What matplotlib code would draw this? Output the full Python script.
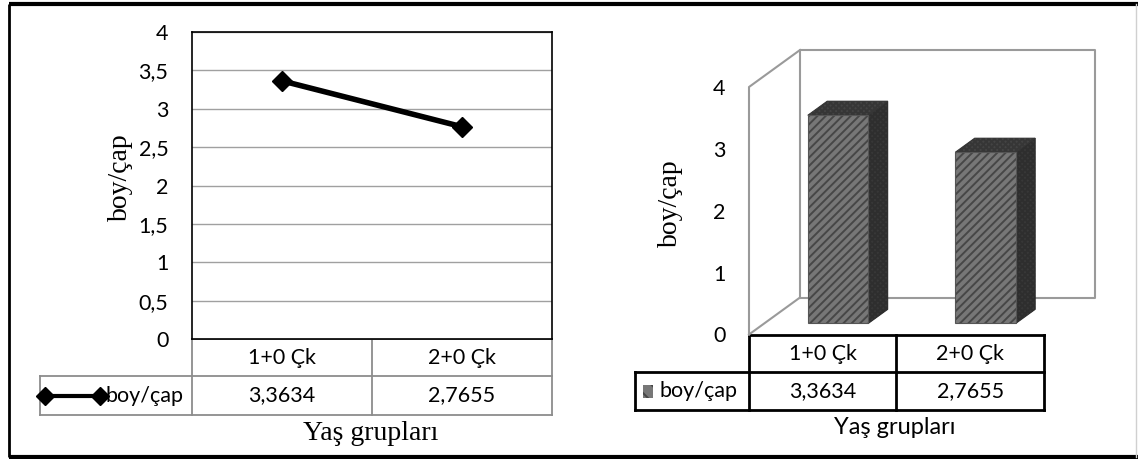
import numpy as np
import matplotlib.pyplot as plt
from matplotlib.patches import Polygon, Rectangle

# data
categories = ['1+0 Çk', '2+0 Çk']
boy_cap = [3.3634, 2.7655]
series_name = 'boy/çap'
x_title = 'Yaş grupları'
line_yticks = np.arange(0, 4.01, 0.5)
bar_yticks = [0, 1, 2, 3, 4]

W, H = 1138, 459
SANS = ['Lato', 'DejaVu Sans']
SERIF = ['Liberation Serif', 'DejaVu Serif']
FS = 15.5
plt.rcParams['hatch.linewidth'] = 1.4


def fmt(v):
    # comma as decimal separator
    return ('%g' % v).replace('.', ',')


def box(x0, y0, x1, y1):
    return [x0 / W, 1 - y1 / H, (x1 - x0) / W, (y1 - y0) / H]


fig = plt.figure(figsize=(W / 100, H / 100), dpi=100)

# pixel-space overlay for the frame, data tables and titles
bg = fig.add_axes([0, 0, 1, 1])
bg.set_xlim(0, W)
bg.set_ylim(H, 0)
bg.axis('off')

bg.plot([9.5, 9.5], [4, 457], color='black', lw=2, solid_capstyle='butt')
bg.plot([9.5, W], [4, 4], color='black', lw=3, solid_capstyle='butt')
bg.plot([9.5, W], [457, 457], color='black', lw=3, solid_capstyle='butt')
bg.plot([1136.5, 1136.5], [4, 457], color='#d0d0d0', lw=1)


def draw_table(x0, x1, rows, key_left, color, lw):
    n = len(categories)
    edges = np.linspace(x0, x1, n + 1)
    centers = (edges[:-1] + edges[1:]) / 2
    r0, r1, r2 = rows
    kw = dict(color=color, lw=lw, solid_capstyle='projecting')
    bg.plot([x0, x1], [r0, r0], **kw)
    for e in edges:
        bg.plot([e, e], [r0, r2], **kw)
    bg.plot([key_left, x1], [r1, r1], **kw)
    bg.plot([key_left, x1], [r2, r2], **kw)
    bg.plot([key_left, key_left], [r1, r2], **kw)
    for c, cat, v in zip(centers, categories, boy_cap):
        bg.text(c, (r0 + r1) / 2, cat, ha='center', va='center',
                family=SANS, fontsize=FS)
        bg.text(c, (r1 + r2) / 2, fmt(v), ha='center', va='center',
                family=SANS, fontsize=FS)
    return (r1 + r2) / 2


# ---- left: line chart ----
L = (192, 32, 552, 339)
axL = fig.add_axes(box(*L))
x = np.arange(len(categories))
axL.plot(x, boy_cap, color='black', lw=4, marker='D', ms=10,
         clip_on=False, zorder=3)
axL.set_xlim(-0.5, len(categories) - 0.5)
axL.set_ylim(0, 4)
axL.set_xticks([])
axL.set_yticks(line_yticks)
axL.set_yticklabels([fmt(t) for t in line_yticks], family=SANS, fontsize=FS)
axL.tick_params(axis='y', length=0, pad=17)
axL.grid(axis='y', color='#a0a0a0', lw=1)
axL.set_axisbelow(True)
for s in axL.spines.values():
    s.set_color('black')
    s.set_linewidth(1.2)

ky = draw_table(L[0], L[2], (339, 376, 415), 40, '#8c8c8c', 1.3)
bg.plot([45, 100], [ky, ky], color='black', lw=3, marker='D', ms=9.5)
bg.text(106, ky, series_name, ha='left', va='center', family=SANS, fontsize=FS)
bg.text(120, 177, series_name, rotation=90, ha='center', va='center',
        family=SERIF, fontsize=20)
bg.text(371, 433, x_title, ha='center', va='center', family=SERIF, fontsize=20)

# ---- right: 3-D style column chart ----
R = (749, 87, 1044, 334.5)
axR = fig.add_axes(box(*R))
axR.set_xlim(-0.5, len(categories) - 0.5)
axR.set_ylim(0, 4)
axR.patch.set_visible(False)
for s in axR.spines.values():
    s.set_visible(False)
axR.set_xticks([])
axR.set_yticks(bar_yticks)
axR.set_yticklabels([fmt(t) for t in bar_yticks], family=SANS, fontsize=FS)
axR.tick_params(axis='y', length=0, pad=17)

# depth vector of the floor, in data units
DX = 51 / ((R[2] - R[0]) / len(categories))
DY = 37 / ((R[3] - R[1]) / 4)
wall = dict(color='#9a9a9a', lw=1.5, clip_on=False, zorder=1)
x_lo, x_hi = axR.get_xlim()
axR.plot([x_lo + DX, x_hi + DX, x_hi + DX, x_lo + DX, x_lo + DX],
         [DY, DY, 4 + DY, 4 + DY, DY], **wall)
axR.plot([x_lo, x_lo, x_lo + DX], [0, 4, 4 + DY], **wall)
axR.plot([x_lo, x_lo + DX], [0, DY], **wall)

front_d, back_d, bar_w = 0.30, 0.68, 0.41
ddx, ddy = (back_d - front_d) * DX, (back_d - front_d) * DY
for i, v in enumerate(boy_cap):
    xl = i - bar_w / 2 + front_d * DX
    xr = i + bar_w / 2 + front_d * DX
    y0 = front_d * DY
    y1 = y0 + v
    side = [(xr, y0), (xr + ddx, y0 + ddy), (xr + ddx, y1 + ddy), (xr, y1)]
    top = [(xl, y1), (xr, y1), (xr + ddx, y1 + ddy), (xl + ddx, y1 + ddy)]
    axR.add_patch(Polygon(side, closed=True, facecolor='#383838',
                          edgecolor='#2e2e2e', lw=0.8, hatch='xxxxxx', zorder=2))
    axR.add_patch(Polygon(top, closed=True, facecolor='#444444',
                          edgecolor='#363636', lw=0.8, hatch='xxxxxx', zorder=2))
    axR.add_patch(Rectangle((xl, y0), xr - xl, v, facecolor='#777777',
                            edgecolor='#474747', lw=0, hatch='////', zorder=3))
    axR.add_patch(Rectangle((xl, y0), xr - xl, v, facecolor='none',
                            edgecolor='#555555', lw=0.8, zorder=4))

ky = draw_table(R[0], R[2], (335, 372, 410), 635, 'black', 2)
bg.add_patch(Rectangle((643, ky - 6.5), 10, 13, facecolor='#777777',
                       edgecolor='#474747', lw=0, hatch='\\\\'))
bg.text(660, ky, series_name, ha='left', va='center', family=SANS, fontsize=FS)
bg.text(670, 203, series_name, rotation=90, ha='center', va='center',
        family=SERIF, fontsize=20)
bg.text(895, 427, x_title, ha='center', va='center', family=SANS, fontsize=17)

fig.savefig('out.png', dpi=100)
